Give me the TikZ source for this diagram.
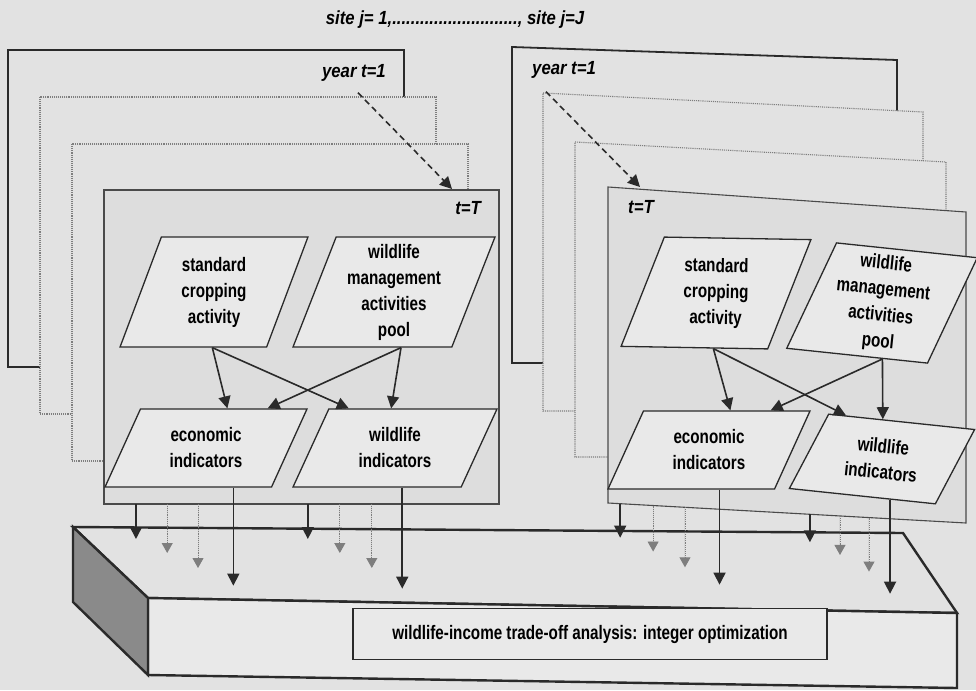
\documentclass[tikz,border=0pt]{standalone}
\usepackage{fontspec}
\setmainfont{Liberation Sans}[FakeStretch=0.88]
\newfontfamily\boxfont{Liberation Sans}[FakeStretch=0.78]
\usetikzlibrary{positioning,arrows.meta,calc,shapes.geometric}
\definecolor{paperGray}{HTML}{E2E2E2}
\definecolor{sheetGray}{HTML}{E9E9E9}
\definecolor{dotGray}{HTML}{DDDDDD}
\definecolor{inkBlack}{HTML}{2A2A2A}
\definecolor{faintInk}{HTML}{7E7E7E}
\definecolor{endShade}{HTML}{8A8A8A}

\begin{document}
\begin{tikzpicture}[x=1pt, y=-1pt, >={Triangle[length=12pt,width=12pt]},
      txt/.style={font=\boxfont\bfseries\fontsize{19.5}{26}\selectfont},
      lbl/.style={font=\fontsize{19}{22}\selectfont\bfseries\itshape, inner sep=0pt},
      yearframe/.style={fill=paperGray, draw=inkBlack, line width=1.8pt},
      midframe/.style={fill=paperGray, draw=faintInk, line width=1.1pt, densely dotted},
      lastframe/.style={fill=dotGray, draw=inkBlack!85, line width=1.1pt},
      para/.style={trapezium, trapezium stretches=true, draw=inkBlack, line width=1.3pt,
        fill=sheetGray, align=center, txt, inner sep=0pt},
      activity/.style={para, trapezium left angle=70, trapezium right angle=110, minimum height=110pt},
      indicator/.style={para, trapezium left angle=64, trapezium right angle=116, minimum height=78pt},
      flow/.style={->, draw=inkBlack, line width=1.6pt},
      ghost/.style={->, draw=faintInk, fill=faintInk, line width=0.9pt, densely dotted,
        >={Triangle[length=10pt,width=11pt]}},
      slab/.style={draw=inkBlack, line width=2.4pt, line join=miter}]
    \fill[paperGray] (0,0) rectangle (976,690);
    \useasboundingbox (0,0) rectangle (976,690);
    \node[lbl] (sites) at (455,20) {site j= 1,..........................., site j=J};

    % site j=1: years stacked
    \foreach \k/\sty in {0/yearframe,1/midframe,2/midframe}
      \draw[\sty] (8+32*\k,50+47*\k) rectangle ++(396,317);
    \draw[lastframe] (104,190) rectangle (499,504);
    \coordinate (fAsw) at (104,504);
    \coordinate (fAse) at (499,504);
    \node[lbl, anchor=east] (yrA) at (386,73) {year t=1};
    \node[lbl, anchor=east] (tTA) at (481,208) {t=T};
    \coordinate (topA) at (452,189);
    \draw[flow, dashed, dash pattern=on 6pt off 4pt] ($(yrA.south east)+(-28,11)$) -- (topA);

    % site j=J: years stacked
    \foreach \l/\t/\r/\rt/\b/\sty in {512/47/897/60/363/yearframe,
        543/93/923/112/411/midframe, 575/142/946/162/457/midframe}
      \draw[\sty] (\l,\t) -- (\r,\rt) -- (\r,\b) -- (\l,\b) -- cycle;
    \draw[lastframe] (608,187) -- (966,212) -- (966,523) -- (608,503) -- cycle;
    \coordinate (fBsw) at (608,503);
    \coordinate (fBse) at (966,523);
    \node[lbl, anchor=west] (yrB) at (532,70) {year t=1};
    \node[lbl, anchor=west] (tTB) at (628,207) {t=T};
    \coordinate (topB) at (640,187);
    \draw[flow, dashed, dash pattern=on 6pt off 4pt] ($(yrB.south west)+(14,13)$) -- (topB);

    % activities and indicators
    \node[activity, minimum width=188pt] (cropA) at (214,292) {standard\\cropping\\activity};
    \node[activity, minimum width=202pt] (poolA) at (394,292) {wildlife\\management\\activities\\pool};
    \node[indicator, minimum width=202pt] (econA) at (206,448) {economic\\indicators};
    \node[indicator, minimum width=204pt] (wildA) at (395,448) {wildlife\\indicators};
    \node[activity, minimum width=188pt, rotate=-1] (cropB) at (716,293) {standard\\cropping\\activity};
    \node[activity, minimum width=180pt, rotate=-6] (poolB) at (882,303) {wildlife\\management\\activities\\pool};
    \node[indicator, minimum width=202pt] (econB) at (709,450) {economic\\indicators};
    \node[indicator, minimum width=178pt, rotate=-6] (wildB) at (882,459) {wildlife\\indicators};

    \foreach \s in {A,B} {
      \draw[flow] ($(crop\s.bottom left corner)!0.63!(crop\s.bottom right corner)$)
        -- ($(econ\s.top left corner)!0.52!(econ\s.top right corner)$);
      \draw[flow] ($(crop\s.bottom left corner)!0.63!(crop\s.bottom right corner)$)
        -- ($(wild\s.top left corner)!0.12!(wild\s.top right corner)$);
      \draw[flow] ($(pool\s.bottom left corner)!0.68!(pool\s.bottom right corner)$)
        -- ($(econ\s.top left corner)!0.76!(econ\s.top right corner)$);
      \draw[flow] ($(pool\s.bottom left corner)!0.68!(pool\s.bottom right corner)$)
        -- ($(wild\s.top left corner)!0.37!(wild\s.top right corner)$);
    }

    % the trade-off slab
    \coordinate (sBL) at (73,527);
    \coordinate (sBR) at (903,533);
    \coordinate (sFL) at (148,598);
    \coordinate (sFR) at (957,613);
    \coordinate (sFLb) at (148,675);
    \coordinate (sFRb) at (957,688);
    \coordinate (sEnd) at (73,602);
    \draw[slab, fill=paperGray] (sBL) -- (sBR) -- (sFR) -- (sFL) -- cycle;
    \draw[slab, fill=sheetGray] (sFL) -- (sFR) -- (sFRb) -- (sFLb) -- cycle;
    \draw[slab, fill=endShade] (sBL) -- (sFL) -- (sFLb) -- (sEnd) -- cycle;
    \node[draw=inkBlack, line width=1.4pt, fill=sheetGray, minimum width=474pt,
      minimum height=51pt, txt] (optim) at (590,634)
      {wildlife-income trade-off analysis: integer optimization};

    % results passed down to the analysis
    \foreach \f/\len in {0.081/35, 0.516/35}
      \draw[flow] ($(fAsw)!\f!(fAse)$) -- ++(0,\len);
    \foreach \f/\len in {0.16/49, 0.238/64, 0.597/49, 0.678/64}
      \draw[ghost] ($(fAsw)!\f!(fAse)$) -- ++(0,\len);
    \foreach \f/\len in {0.034/34, 0.564/28}
      \draw[flow] ($(fBsw)!\f!(fBse)$) -- ++(0,\len);
    \foreach \f/\len in {0.126/46, 0.215/60, 0.648/39, 0.729/54}
      \draw[ghost] ($(fBsw)!\f!(fBse)$) -- ++(0,\len);
    \draw[flow] ($(econA.bottom left corner)!0.77!(econA.bottom right corner)$) -- ++(0,98);
    \draw[flow] ($(wildA.bottom left corner)!0.65!(wildA.bottom right corner)$) -- ++(0,101);
    \draw[flow] ($(econB.bottom left corner)!0.67!(econB.bottom right corner)$) -- ++(0,95);
    \draw[flow] ($(wildB.bottom left corner)!0.69!(wildB.bottom right corner)$) -- ++(0,94);
  \end{tikzpicture}
\end{document}
